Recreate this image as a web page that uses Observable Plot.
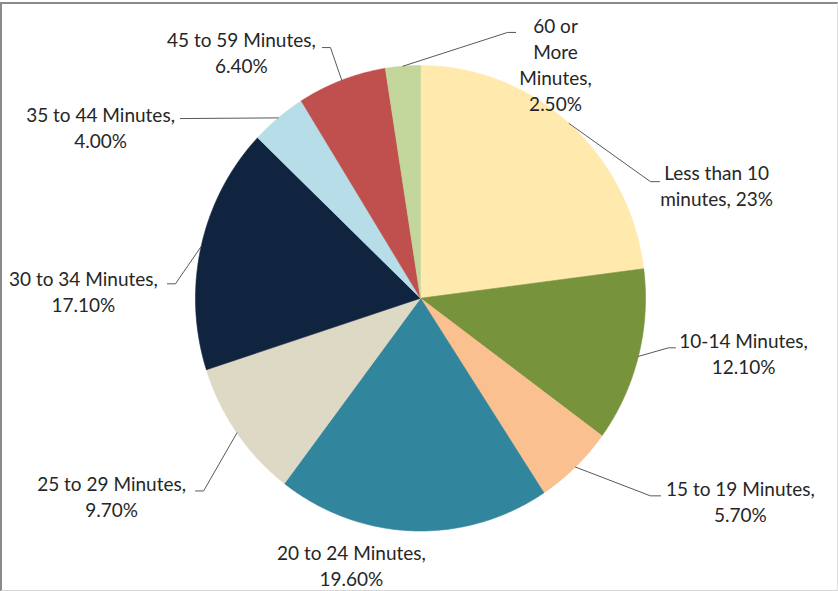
<!DOCTYPE html>
<html>
<head>
<meta charset="utf-8">
<script src="https://cdn.jsdelivr.net/npm/d3@7"></script>
<script src="https://cdn.jsdelivr.net/npm/@observablehq/plot@0.6"></script>
<style>
  html, body { margin: 0; padding: 0; background: #fff; }
  #wrap { position: relative; width: 838px; height: 591px; overflow: hidden; }
  #wrap svg { display: block; }
  #frame { position: absolute; left: 0; top: 2px; width: 838px; height: 589px; box-sizing: border-box;
           border-left: 2px solid #8a8a8a; border-top: 2px solid #8a8a8a;
           border-right: 1px solid #e2e2e2; border-bottom: 1px solid #d6d6d6; pointer-events: none; }
</style>
</head>
<body>
<div id="wrap"><div id="frame"></div></div>
<script>
// ---- data ----
const categories = ["Less than 10 minutes", "10-14 Minutes", "15 to 19 Minutes", "20 to 24 Minutes",
  "25 to 29 Minutes", "30 to 34 Minutes", "35 to 44 Minutes", "45 to 59 Minutes", "60 or More Minutes"];
const values = [23, 12.1, 5.7, 19.6, 9.7, 17.1, 4.0, 6.4, 2.5];
const labelTexts = ["Less than 10\nminutes, 23%", "10-14 Minutes,\n12.10%", "15 to 19 Minutes,\n5.70%",
  "20 to 24 Minutes,\n19.60%", "25 to 29 Minutes,\n9.70%", "30 to 34 Minutes,\n17.10%",
  "35 to 44 Minutes,\n4.00%", "45 to 59 Minutes,\n6.40%", "60 or\nMore\nMinutes,\n2.50%"];
const colors = ["#FFE9AD", "#77933C", "#FAC090", "#31859C", "#DDD9C4", "#10243F", "#B7DEE8", "#C0504D", "#C3D69B"];

// ---- label layout (pie units: radius = 1, origin = pie centre, y up) ----
const labelCenter = [[1.316, 0.469], [1.436, -0.249], [1.422, -0.886], [-0.307, -1.161],
  [-1.373, -0.865], [-1.498, 0.017], [-1.422, 0.720], [-0.796, 1.043], [0.600, 0.991]];
const labelElbow = [[1.022, 0.501], [1.102, -0.213], [1.022, -0.849], null,
  [-0.964, -0.828], [-1.089, 0.062], [-1.067, 0.772], [-0.400, 1.077], [0.387, 1.142]];
const labelTail = [0.04, 0.031, 0.045, 0, -0.036, -0.036, 0, -0.036, 0.036];

// ---- geometry derived from values ----
const arcs = d3.pie().sort(null).value(d => d)(values);
const slicePts = [];
arcs.forEach((a, i) => {
  const n = Math.max(2, Math.ceil((a.endAngle - a.startAngle) / (Math.PI / 720)));
  slicePts.push({x: 0, y: 0, cat: categories[i]});
  for (let k = 0; k <= n; k++) {
    const t = a.startAngle + (a.endAngle - a.startAngle) * k / n;
    slicePts.push({x: Math.sin(t), y: Math.cos(t), cat: categories[i]});
  }
  slicePts.push({x: 0, y: 0, cat: categories[i]});
});

const leaderPts = [];
arcs.forEach((a, i) => {
  const e = labelElbow[i];
  if (!e) return;
  const m = (a.startAngle + a.endAngle) / 2;
  leaderPts.push({x: Math.sin(m), y: Math.cos(m), k: i});
  leaderPts.push({x: e[0], y: e[1], k: i});
  if (labelTail[i]) leaderPts.push({x: e[0] + labelTail[i], y: e[1], k: i});
});

const labels = labelTexts.map((t, i) => ({x: labelCenter[i][0], y: labelCenter[i][1], text: t}));

const chart = Plot.plot({
  width: 838,
  height: 591,
  margin: 0,
  x: {domain: [-1, 1], range: [195, 645], axis: null},
  y: {domain: [-1, 1], range: [530.5, 65], axis: null},
  color: {domain: categories, range: colors},
  style: {background: "transparent"},
  marks: [
    Plot.line(slicePts, {x: "x", y: "y", z: "cat", fill: "cat", stroke: "cat", strokeWidth: 0.6, curve: "linear"}),
    Plot.line(leaderPts, {x: "x", y: "y", z: "k", stroke: "#595959", strokeWidth: 1, curve: "linear"}),
    Plot.text(labels, {x: "x", y: "y", text: "text", fontSize: 19, lineHeight: 26 / 19, dy: -4,
      fontFamily: "Lato, 'Open Sans', sans-serif", fill: "#262626", textAnchor: "middle"})
  ]
});
document.getElementById("wrap").insertBefore(chart, document.getElementById("frame"));
</script>
</body>
</html>
